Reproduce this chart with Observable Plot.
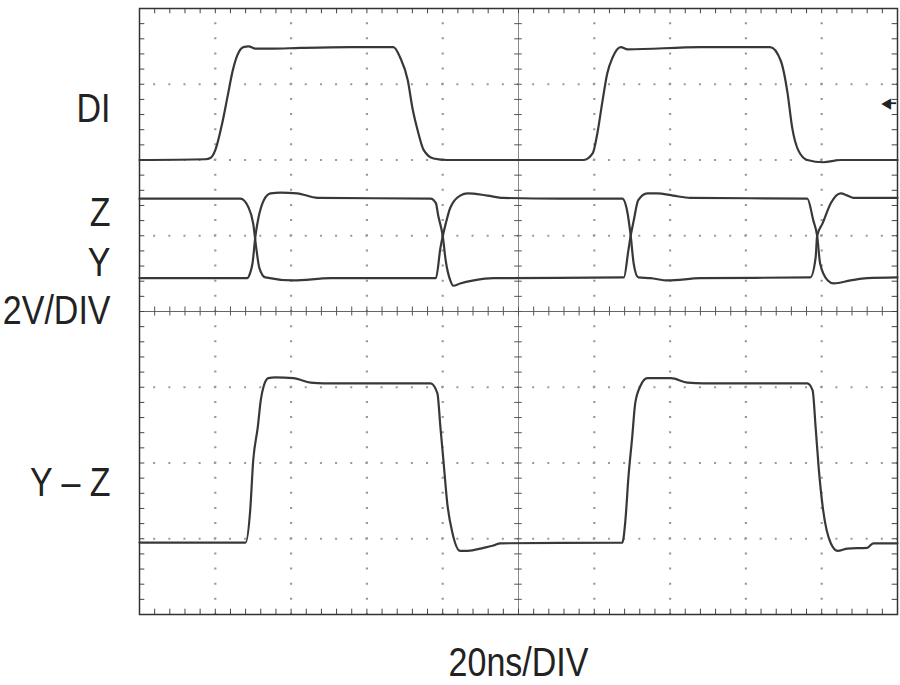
<!DOCTYPE html>
<html>
<head>
<meta charset="utf-8">
<script src="https://cdn.jsdelivr.net/npm/d3@7"></script>
<script src="https://cdn.jsdelivr.net/npm/@observablehq/plot@0.6"></script>
<style>
  body { margin: 0; background: #fff; overflow: hidden; }
  #chart svg { display: block; }
</style>
</head>
<body>
<div id="chart"></div>
<script>
// scope traces, [x, y] in divisions
// x: 20ns/DIV (0..10), y: 2V/DIV (0..8, bottom to top)
const diTrace = [
  [0, 6.00], [0.87, 6.01], [0.94, 6.03], [1.00, 6.13], [1.09, 6.48], [1.16, 6.83],
  [1.23, 7.18], [1.29, 7.38], [1.37, 7.49], [1.44, 7.50], [1.53, 7.47], [1.73, 7.47],
  [2.12, 7.48], [2.78, 7.49], [3.35, 7.49], [3.44, 7.35], [3.54, 7.05], [3.60, 6.69],
  [3.67, 6.39], [3.75, 6.13], [3.88, 6.02], [4.06, 6.00], [5.00, 6.00], [5.86, 6.00],
  [5.98, 6.09], [6.04, 6.35], [6.11, 6.79], [6.17, 7.14], [6.24, 7.35], [6.35, 7.49],
  [6.44, 7.46], [7.40, 7.49], [8.32, 7.49], [8.46, 7.31], [8.55, 6.88], [8.61, 6.43],
  [8.69, 6.13], [8.81, 6.00], [9.02, 5.97], [9.25, 6.00], [10, 6.00]
]

const zTrace = [
  [0, 5.49], [1.33, 5.49], [1.44, 5.37], [1.50, 5.16], [1.54, 4.84], [1.58, 4.58],
  [1.66, 4.45], [2.03, 4.41], [2.52, 4.44], [3.91, 4.44], [3.97, 4.84], [4.04, 5.16],
  [4.10, 5.37], [4.23, 5.53], [4.33, 5.56], [4.59, 5.53], [4.80, 5.50], [5.55, 5.49],
  [6.37, 5.49], [6.44, 5.29], [6.48, 5.00], [6.52, 4.63], [6.58, 4.45], [6.74, 4.44],
  [6.97, 4.41], [7.40, 4.44], [8.85, 4.45], [8.92, 4.71], [8.94, 5.00], [9.01, 5.16],
  [9.12, 5.43], [9.25, 5.56], [9.34, 5.53], [9.42, 5.50], [10, 5.50]
]

const yTrace = [
  [0, 4.44], [1.42, 4.44], [1.46, 4.51], [1.49, 4.63], [1.53, 5.00], [1.57, 5.24],
  [1.64, 5.47], [1.73, 5.56], [1.86, 5.57], [2.08, 5.56], [2.35, 5.50], [3.84, 5.49],
  [3.91, 5.43], [3.94, 5.27], [4.00, 5.00], [4.04, 4.67], [4.10, 4.41], [4.14, 4.34],
  [4.23, 4.37], [4.41, 4.41], [4.67, 4.44], [6.39, 4.45], [6.45, 4.81], [6.48, 5.00],
  [6.52, 5.20], [6.58, 5.47], [6.70, 5.56], [6.83, 5.56], [7.04, 5.53], [7.27, 5.50],
  [8.81, 5.49], [8.89, 5.20], [8.94, 5.00], [8.98, 4.63], [9.08, 4.41], [9.16, 4.37],
  [9.38, 4.41], [9.60, 4.44], [10, 4.45]
]

const yzTrace = [
  [0, 0.95], [1.40, 0.95], [1.46, 1.37], [1.50, 2.03], [1.56, 2.47], [1.60, 2.83],
  [1.64, 3.02], [1.70, 3.12], [1.79, 3.13], [2.03, 3.12], [2.26, 3.06], [2.43, 3.05],
  [3.84, 3.05], [3.93, 2.92], [3.97, 2.47], [4.01, 2.03], [4.06, 1.47], [4.13, 1.07],
  [4.23, 0.84], [4.33, 0.84], [4.54, 0.88], [4.67, 0.91], [4.76, 0.94], [6.37, 0.95],
  [6.41, 1.24], [6.45, 1.81], [6.50, 2.34], [6.54, 2.79], [6.61, 3.02], [6.70, 3.12],
  [7.01, 3.12], [7.23, 3.06], [7.44, 3.05], [8.81, 3.05], [8.88, 2.96], [8.92, 2.47],
  [8.96, 1.94], [9.02, 1.37], [9.12, 0.94], [9.21, 0.84], [9.34, 0.87], [9.60, 0.88],
  [9.68, 0.94], [10, 0.94]
]

// channel names on the left
const traceLabels = [
  {label: 'DI', y: 6.67},
  {label: 'Z', y: 5.30},
  {label: 'Y', y: 4.64},
  {label: '2V/DIV', y: 4.01},
  {label: 'Y – Z', y: 1.74},
]

// ground marker for DI (right edge): small filled arrow pointing left
const refMarker = [{x1: 9.99, x2: 9.85, y: 6.75}]

// graticule
const gridXs = [1, 2, 3, 4, 6, 7, 8, 9]
const gridYs = [1, 2, 3, 5, 6, 7]
const minorX = d3.range(51).map(i => i / 5)
const minorY = d3.range(41).map(i => i / 5)

const font = '"Liberation Sans Narrow", "Arial Narrow", "Liberation Sans", Arial, sans-serif'
const traceColor = '#383838'

let chart = Plot.plot({
  width: 900,
  height: 685,
  marginLeft: 139,
  marginRight: 3,
  marginTop: 8,
  marginBottom: 71,
  style: {fontFamily: font, background: '#fff', color: '#222'},
  x: {domain: [0, 10], axis: null},
  y: {domain: [0, 8], axis: null},
  marks: [
    // dotted grid lines
    Plot.ruleX(gridXs, {stroke: '#999', strokeWidth: 2.2, strokeDasharray: '2 13.15', strokeDashoffset: 1}),
    Plot.ruleY(gridYs, {stroke: '#999', strokeWidth: 2.2, strokeDasharray: '2 13.16', strokeDashoffset: 1}),
    // center lines with cross ticks
    Plot.ruleX([5], {stroke: '#8a8a8a', strokeWidth: 1}),
    Plot.ruleY([4], {stroke: '#666', strokeWidth: 1.2}),
    Plot.ruleX(minorX, {y1: 3.94, y2: 4.06, stroke: '#555', strokeWidth: 1}),
    Plot.ruleY(minorY, {x1: 4.95, x2: 5.05, stroke: '#555', strokeWidth: 1}),
    // border ticks
    Plot.ruleX(minorX, {y1: 0, y2: 0.07, stroke: '#444', strokeWidth: 1}),
    Plot.ruleX(minorX, {y1: 7.93, y2: 8, stroke: '#444', strokeWidth: 1}),
    Plot.ruleY(minorY, {x1: 0, x2: 0.07, stroke: '#444', strokeWidth: 1}),
    Plot.ruleY(minorY, {x1: 9.93, x2: 10, stroke: '#444', strokeWidth: 1}),
    Plot.frame({stroke: '#333', strokeWidth: 1.5}),
    // traces
    Plot.line(diTrace, {stroke: traceColor, strokeWidth: 2.2, curve: 'monotone-x'}),
    Plot.line(zTrace, {stroke: traceColor, strokeWidth: 2.2, curve: 'monotone-x'}),
    Plot.line(yTrace, {stroke: traceColor, strokeWidth: 2.2, curve: 'monotone-x'}),
    Plot.line(yzTrace, {stroke: traceColor, strokeWidth: 2.2, curve: 'monotone-x'}),
    Plot.ruleY(refMarker, {x1: 'x1', x2: 'x2', y: 'y', stroke: '#222', strokeWidth: 1.8}),
    Plot.text(refMarker, {x: 'x2', y: 'y', text: () => '◀', fontSize: 15, fill: '#222', fontFamily: 'DejaVu Sans'}),
    // labels
    Plot.text(traceLabels, {
      frameAnchor: 'left', y: 'y', text: 'label', dx: -29, textAnchor: 'end',
      fontSize: 40, fill: '#222'
    }),
    Plot.text(['20ns/DIV'], {frameAnchor: 'bottom', lineAnchor: 'middle', dy: 49, fontSize: 40, fill: '#222'}),
  ],
})

// no condensed font installed: squeeze the labels horizontally around their anchor
d3.select(chart).selectAll('g[aria-label=text] text').each(function() {
  const t = d3.select(this)
  const x = +t.attr('x') || 0
  const y = +t.attr('y') || 0
  const tr = t.attr('transform') || ''
  t.attr('transform', `${tr} translate(${x},${y}) scale(0.85,1) translate(${-x},${-y})`)
})

d3.select('#chart').append(() => chart)
</script>
</body>
</html>
